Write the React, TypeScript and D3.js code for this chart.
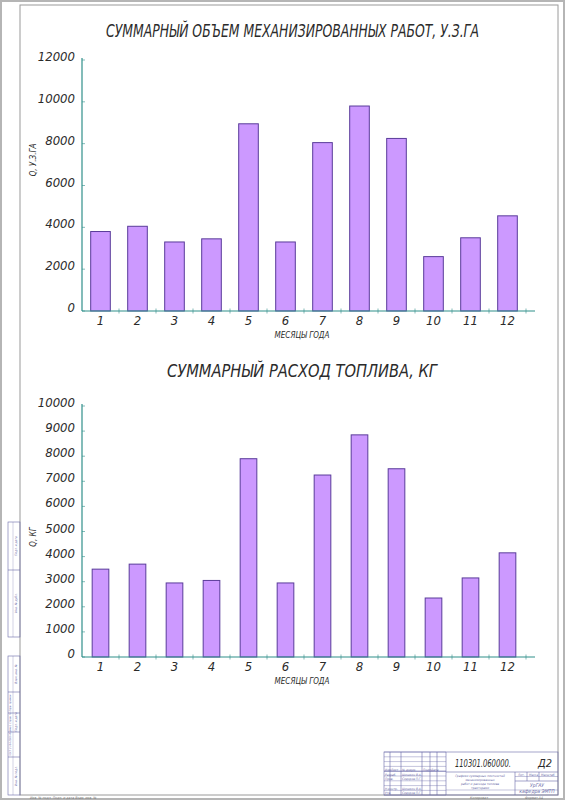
import React from "react";
import * as d3 from "d3";

const months = ["1", "2", "3", "4", "5", "6", "7", "8", "9", "10", "11", "12"];
const workVolume = [3800, 4050, 3300, 3450, 8950, 3300, 8050, 9800, 8250, 2600, 3500, 4550];
const fuelUse = [3500, 3700, 2950, 3050, 7900, 2950, 7250, 8850, 7500, 2350, 3150, 4150];
const workTicks = [0, 2000, 4000, 6000, 8000, 10000, 12000];
const fuelTicks = [0, 1000, 2000, 3000, 4000, 5000, 6000, 7000, 8000, 9000, 10000];

const title1 = "СУММАРНЫЙ ОБЪЕМ МЕХАНИЗИРОВАННЫХ РАБОТ, У.З.ГА";
const title2 = "СУММАРНЫЙ РАСХОД ТОПЛИВА, КГ";
const yLabel1 = "Q, У.З.ГА";
const yLabel2 = "Q, КГ";
const xLabel = "МЕСЯЦЫ ГОДА";

const FONT = "'Liberation Sans Narrow', 'DejaVu Sans Condensed', sans-serif";
const INK = "#2b2b2b";
const AXIS = "#2f8f8a";
const BAR_FILL = "#cc99ff";
const BAR_STROKE = "#5a3c9a";
const BLOCK = "#6a6aa8";

type ChartProps = {
  values: number[];
  ticks: number[];
  max: number;
  y0: number;
  y1: number;
  pad: number;
  title: string;
  titleY: number;
  titleX0: number;
  titleX1: number;
  yLabel: string;
  yLabelY: number;
};

function BarChart(p: ChartProps) {
  const x = d3.scaleBand<string>().domain(months).range([82, 526]).paddingInner(p.pad).paddingOuter(p.pad / 2);
  const y = d3.scaleLinear().domain([0, p.max]).range([p.y0, p.y1]);
  const step = x.step();
  return (
    <g>
      <text
        x={p.titleX0}
        y={p.titleY}
        fontFamily={FONT}
        fontStyle="italic"
        fontSize={17}
        fill={INK}
        textLength={p.titleX1 - p.titleX0}
        lengthAdjust="spacingAndGlyphs"
      >
        {p.title}
      </text>
      {p.ticks.map((t) => (
        <g key={t}>
          <text
            x={75}
            y={y(t) + 1}
            textAnchor="end"
            fontFamily={FONT}
            fontStyle="italic"
            fontSize={13}
            fill={INK}
          >
            {t}
          </text>
          <line x1={82} x2={85} y1={y(t)} y2={y(t)} stroke={AXIS} strokeWidth={0.6} />
        </g>
      ))}
      <text
        transform={`translate(36,${p.yLabelY}) rotate(-90)`}
        textAnchor="middle"
        fontFamily={FONT}
        fontStyle="italic"
        fontSize={8}
        fill={INK}
      >
        {p.yLabel}
      </text>
      {p.values.map((v, i) => (
        <rect
          key={i}
          x={x(months[i])!}
          y={y(v)}
          width={x.bandwidth()}
          height={p.y0 - y(v)}
          fill={BAR_FILL}
          stroke={BAR_STROKE}
          strokeWidth={1}
        />
      ))}
      <line x1={82} x2={82} y1={p.y0} y2={p.y1 - 2} stroke={AXIS} strokeWidth={1.2} />
      <line x1={82} x2={535} y1={p.y0} y2={p.y0} stroke={AXIS} strokeWidth={1.2} />
      {d3.range(1, 13).map((k) => (
        <line
          key={k}
          x1={82 + k * step}
          x2={82 + k * step}
          y1={p.y0 - 2.5}
          y2={p.y0 + 2.5}
          stroke={AXIS}
          strokeWidth={0.6}
        />
      ))}
      {months.map((m) => (
        <text
          key={m}
          x={x(m)! + x.bandwidth() / 2}
          y={p.y0 + 14}
          textAnchor="middle"
          fontFamily={FONT}
          fontStyle="italic"
          fontSize={13}
          fill={INK}
        >
          {m}
        </text>
      ))}
      <text
        x={302}
        y={p.y0 + 27}
        textAnchor="middle"
        fontFamily={FONT}
        fontStyle="italic"
        fontSize={8}
        fill={INK}
      >
        {xLabel}
      </text>
    </g>
  );
}

function TitleBlock() {
  const rowsLeft = d3.range(0, 10).map((k) => 752 + k * 4.8);
  const colsLeft = [390, 401, 422, 430, 437];
  const t = (x: number, y: number, s: string, size = 3.2, anchor = "start") => (
    <text x={x} y={y} fontFamily={FONT} fontStyle="italic" fontSize={size} fill={BLOCK} textAnchor={anchor as any}>
      {s}
    </text>
  );
  return (
    <g stroke={BLOCK} strokeWidth={0.6} fill="none">
      <rect x={384} y={752} width={174} height={43} />
      {rowsLeft.map((r, i) => (
        <line key={i} x1={384} x2={446} y1={r} y2={r} strokeWidth={i === 4 ? 0.9 : 0.4} />
      ))}
      {colsLeft.map((c) => (
        <line key={c} x1={c} x2={c} y1={752} y2={795} />
      ))}
      <line x1={446} x2={446} y1={752} y2={795} />
      <line x1={446} x2={558} y1={772} y2={772} />
      <line x1={446} x2={558} y1={790} y2={790} strokeWidth={0.4} />
      <line x1={515} x2={515} y1={772} y2={795} />
      <line x1={515} x2={558} y1={776.5} y2={776.5} strokeWidth={0.4} />
      <line x1={515} x2={558} y1={781} y2={781} />
      <line x1={527} x2={527} y1={772} y2={781} />
      <line x1={539} x2={539} y1={772} y2={781} />
      <g stroke="none">
        <text x={455} y={767} fontFamily={FONT} fontStyle="italic" fontSize={11} fill={INK} textLength={56} lengthAdjust="spacingAndGlyphs">
          110301.060000.
        </text>
        <text x={538} y={767} fontFamily={FONT} fontStyle="italic" fontSize={11} fill={INK}>
          Д2
        </text>
        {t(385, 771, "Изм.")}
        {t(391, 771, "Лист")}
        {t(402, 771, "№ докум.")}
        {t(423, 771, "Подп.")}
        {t(431, 771, "Дата")}
        {t(385, 775.5, "Разраб.")}
        {t(402, 775.5, "Шишкин В.А.")}
        {t(385, 780, "Пров.")}
        {t(402, 780, "Сидоров П.Г.")}
        {t(385, 789.5, "Н.контр.")}
        {t(402, 789.5, "Шишкин В.А.")}
        {t(385, 794, "Утв.")}
        {t(402, 794, "Сидоров П.Г.")}
        {t(480, 777, "Графики суммарных плотностей", 3.2, "middle")}
        {t(480, 781, "механизированных", 3.2, "middle")}
        {t(480, 785, "работ и расхода топлива", 3.2, "middle")}
        {t(480, 789, "тракторами", 3.2, "middle")}
        {t(518, 775.5, "Лит.")}
        {t(529, 775.5, "Масса")}
        {t(541, 775.5, "Масштаб")}
        {t(537, 787, "УрГАУ", 5, "middle")}
        {t(537, 793, "кафедра  ЭМТП", 5, "middle")}
      </g>
    </g>
  );
}

function SideStrips() {
  const rot = (x: number, y: number, s: string, size = 3.2) => (
    <text
      transform={`translate(${x},${y}) rotate(-90)`}
      textAnchor="middle"
      fontFamily={FONT}
      fontStyle="italic"
      fontSize={size}
      fill={BLOCK}
      stroke="none"
    >
      {s}
    </text>
  );
  return (
    <g stroke={BLOCK} strokeWidth={0.6} fill="none">
      <rect x={8} y={522} width={12} height={115} />
      <line x1={8} x2={20} y1={570} y2={570} />
      <line x1={13} x2={13} y1={522} y2={637} strokeWidth={0.3} />
      {rot(17, 546, "Подп. и дата")}
      {rot(17, 603, "Инв. № дубл.")}
      <rect x={8} y={656} width={12} height={139} />
      <line x1={8} x2={20} y1={692} y2={692} />
      <line x1={8} x2={20} y1={713} y2={713} />
      <line x1={8} x2={20} y1={732} y2={732} />
      <line x1={8} x2={20} y1={757} y2={757} />
      <line x1={13} x2={13} y1={656} y2={795} strokeWidth={0.3} />
      {rot(17, 674, "Взам. инв. №")}
      {rot(17, 722, "Подп. и дата")}
      {rot(17, 776, "Инв. № подл.")}
      {rot(11, 725, "ГОСТ 2.104-2006  Форма 1  Справ. №  Перв. примен.", 2.6)}
    </g>
  );
}

export default function App() {
  return (
    <svg
      width={565}
      height={800}
      viewBox="0 0 565 800"
      style={{ position: "absolute", left: 0, top: 0, background: "#ffffff" }}
    >
      <rect x={0} y={0} width={565} height={800} fill="#ffffff" />
      <rect x={1} y={1} width={563} height={798} fill="none" stroke="#b5b5b5" strokeWidth={2} />
      <rect x={20} y={5} width={538} height={790} fill="none" stroke="#9a9a9a" strokeWidth={1} />
      <BarChart
        values={workVolume}
        ticks={workTicks}
        max={12000}
        y0={311}
        y1={60}
        pad={0.47}
        title={title1}
        titleY={37}
        titleX0={106}
        titleX1={479}
        yLabel={yLabel1}
        yLabelY={160}
      />
      <BarChart
        values={fuelUse}
        ticks={fuelTicks}
        max={10000}
        y0={657}
        y1={406}
        pad={0.55}
        title={title2}
        titleY={377}
        titleX0={167}
        titleX1={437}
        yLabel={yLabel2}
        yLabelY={537}
      />
      <SideStrips />
      <TitleBlock />
      <text x={30} y={798.5} fontFamily={FONT} fontStyle="italic" fontSize={3.5} fill="#777">
        Инв. № подл.    Подп. и дата    Взам. инв. №
      </text>
      <text x={470} y={798.5} fontFamily={FONT} fontStyle="italic" fontSize={3.5} fill="#777">
        Копировал
      </text>
      <text x={525} y={798.5} fontFamily={FONT} fontStyle="italic" fontSize={3.5} fill="#777">
        Формат А4
      </text>
    </svg>
  );
}
